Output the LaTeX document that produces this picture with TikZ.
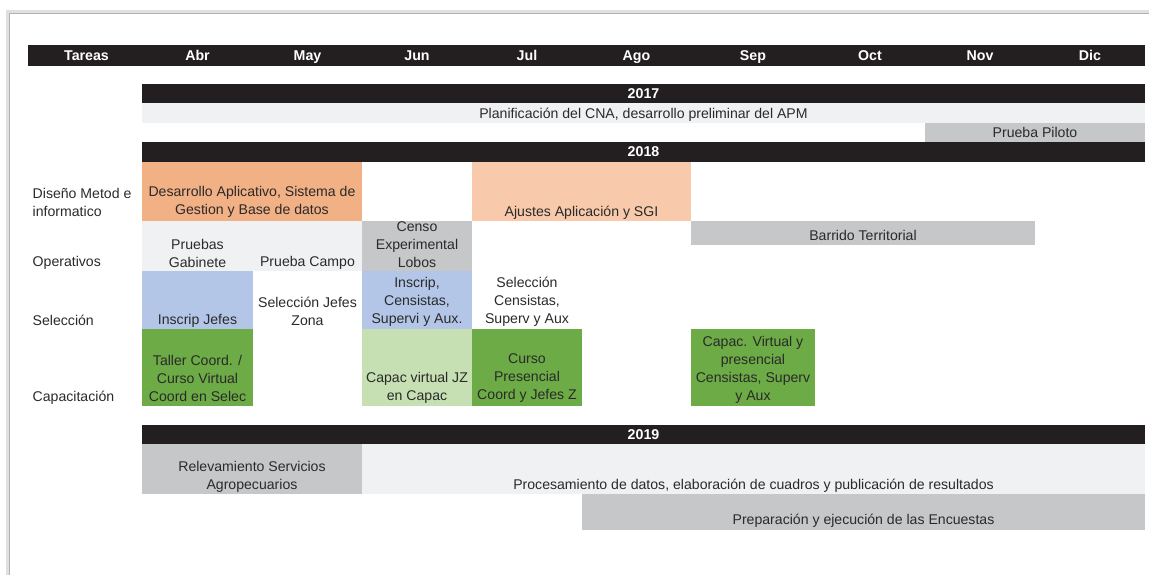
\documentclass[tikz,border=0pt]{standalone}
\usepackage{fontspec}
\setmainfont{Liberation Sans}
\definecolor{barC}{HTML}{231F20}
\definecolor{txtC}{HTML}{2A2A2A}
\definecolor{lgray}{HTML}{F0F1F3}
\definecolor{mgray}{HTML}{C6C7C9}
\definecolor{orangeC}{HTML}{F2B085}
\definecolor{peachC}{HTML}{F8CAAB}
\definecolor{blueC}{HTML}{B3C6E7}
\definecolor{dgreen}{HTML}{6CAB45}
\definecolor{lgreen}{HTML}{C6E0B3}
\tikzset{
  txt/.style={text=txtC, align=center, inner sep=0pt, font=\fontsize{14.1}{18}\selectfont},
  lbl/.style={txt, align=left, anchor=west},
  hdr/.style={text=white, inner sep=0pt, anchor=base, font=\bfseries\fontsize{14.2}{16}\selectfont},
}
\begin{document}
\begin{tikzpicture}[x=1pt,y=-1pt]
\useasboundingbox (0,0) rectangle (1149,575);
\fill[white] (0,0) rectangle (1149,575);
% frame shadow
\draw[black!12, line width=4pt] (8,575) -- (8,12) -- (1149,12);
\draw[black!30, line width=1pt] (9.5,575) -- (9.5,13.5) -- (1149,13.5);
% header
\fill[barC] (28,45) rectangle (1145,66);
\foreach \n/\x/\t in {ta/86.5/Tareas, ab/197.5/Abr, ma/307.5/May, ju/417/Jun, jl/527/Jul, ag/636.5/Ago, se/753/Sep, oc/870/Oct, no/980/Nov, di/1090/Dic}
  \node[hdr] (h\n) at (\x,60.3) {\t};
% 2017
\fill[barC] (142,84) rectangle (1145,103);
\node[hdr] (y17) at (643.5,99) {2017};
\fill[lgray] (142,103) rectangle (1145,123);
\node[txt] (plan) at (643.5,115) {Planificación del CNA, desarrollo preliminar del APM};
\fill[mgray] (925,123) rectangle (1145,142);
\node[txt] (piloto) at (1035,132.5) {Prueba Piloto};
% 2018
\fill[barC] (142,142) rectangle (1145,162);
\node[hdr] (y18) at (643.5,156.7) {2018};
\fill[orangeC] (142,162) rectangle (362,221);
\fill[peachC] (472,162) rectangle (691,221);
\fill[lgray] (142,221) rectangle (362,271);
\fill[mgray] (362,221) rectangle (472,271);
\fill[mgray] (691,221) rectangle (1035,244.5);
\fill[blueC] (142,271) rectangle (253,329);
\fill[blueC] (362,271) rectangle (472,329);
\fill[dgreen] (142,329) rectangle (253,406);
\fill[lgreen] (362,329) rectangle (472,406);
\fill[dgreen] (472,329) rectangle (582,406);
\fill[dgreen] (691,329) rectangle (815,406);
\node[lbl] (ldis) at (32.5,202) {Diseño Metod e\\informatico};
\node[lbl] (lope) at (32.5,263) {Operativos};
\node[lbl] (lsel) at (32.5,320) {Selección};
\node[lbl] (lcap) at (32.5,398) {Capacitación};
\node[txt] (desa) at (252,202) {Desarrollo Aplicativo, Sistema de\\Gestion y Base de datos};
\node[txt] (ajus) at (581.5,212.5) {Ajustes Aplicación y SGI};
\node[txt] (gabi) at (197.5,253.5) {Pruebas\\Gabinete};
\node[txt] (camp) at (307.5,263) {Prueba Campo};
\node[txt] (cens) at (417,244.5) {Censo\\Experimental\\Lobos};
\node[txt] (barr) at (863,235.5) {Barrido Territorial};
\node[txt] (insj) at (197.5,321) {Inscrip Jefes};
\node[txt] (selj) at (307.5,311) {Selección Jefes\\Zona};
\node[txt] (insc) at (417,301.5) {Inscrip,\\Censistas,\\Supervi y Aux.};
\node[txt] (selc) at (527,301.5) {Selección\\Censistas,\\Superv y Aux};
\node[txt] (tall) at (197.5,378.5) {Taller Coord. /\\Curso Virtual\\Coord en Selec};
\node[txt] (capjz) at (417,387.5) {Capac virtual JZ\\en Capac};
\node[txt] (curs) at (527,378.5) {Curso\\Presencial\\Coord y Jefes Z};
\node[txt] (capv) at (753,369.5) {Capac. Virtual y\\presencial\\Censistas, Superv\\y Aux};
% 2019
\fill[barC] (142,425) rectangle (1145,444);
\node[hdr] (y19) at (643.5,439.3) {2019};
\fill[mgray] (142,444) rectangle (362,494);
\fill[lgray] (362,444) rectangle (1145,494);
\fill[mgray] (582,494) rectangle (1145,530);
\node[txt] (rele) at (252,476.5) {Relevamiento Servicios\\Agropecuarios};
\node[txt] (proc) at (753.5,486) {Procesamiento de datos, elaboración de cuadros y publicación de resultados};
\node[txt] (prep) at (863.5,520.5) {Preparación y ejecución de las Encuestas};
\end{tikzpicture}
\end{document}
